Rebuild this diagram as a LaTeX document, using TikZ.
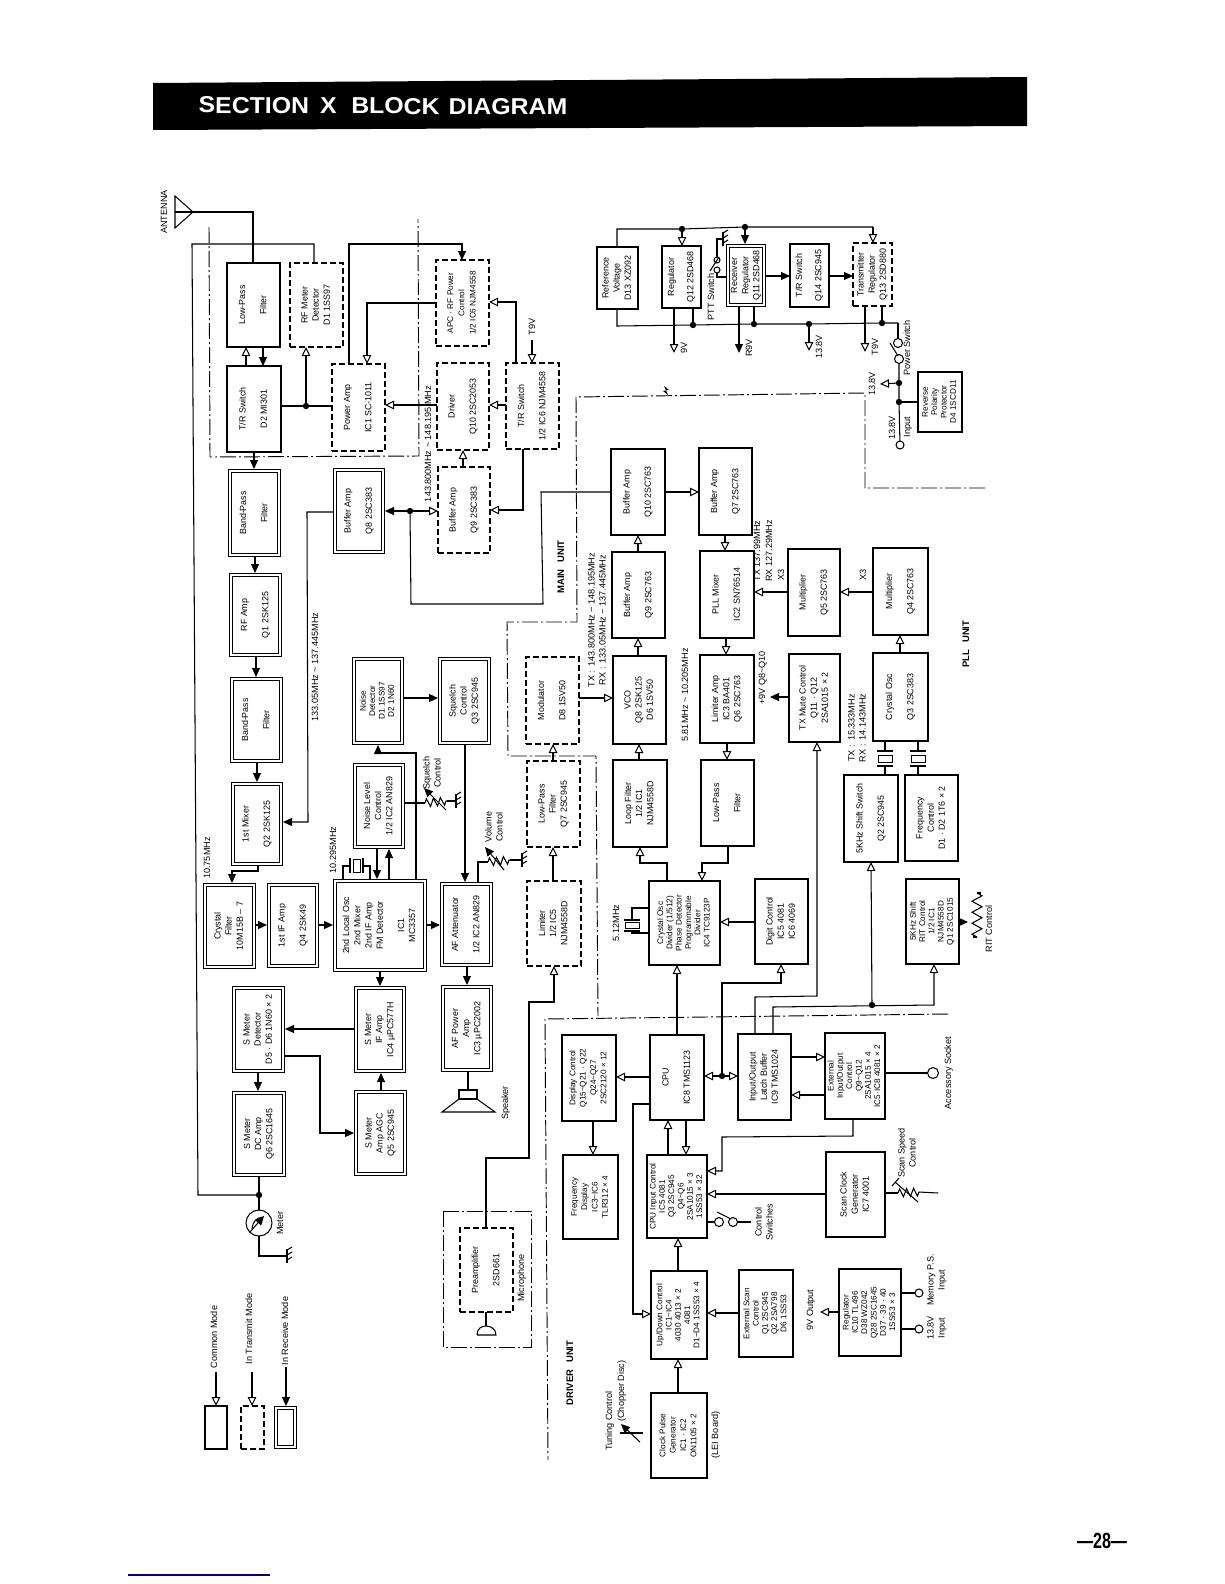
\documentclass[tikz,border=0pt]{standalone}
\usepackage{fontspec}
\usepackage{graphicx}
\setmainfont{Liberation Sans}
\usetikzlibrary{arrows.meta,decorations.pathmorphing}
\newcommand\normf{\fontsize{8.9}{11.2}\selectfont}
\newcommand\densef{\fontsize{8.2}{9.3}\selectfont}
\newcommand\labf{\fontsize{9.1}{11}\selectfont}
\newcount\labc
\newcommand\Blk[7]{%
  \pgfmathsetmacro\bw{#5-#3}\pgfmathsetmacro\bh{#6-#4}%
  \pgfmathsetmacro\cx{(#3+#5)/2}\pgfmathsetmacro\cy{(#4+#6)/2}%
  \node[#1,minimum width=\bw pt,minimum height=\bh pt] (#2) at (\cx,\cy)
    {\rotatebox{90}{\begin{tabular}{@{}c@{}}#7\end{tabular}}};}
\newcommand\DBlk[7]{%
  \pgfmathsetmacro\xa{#3+2}\pgfmathsetmacro\ya{#4+2}%
  \pgfmathsetmacro\xb{#5-2}\pgfmathsetmacro\yb{#6-2}%
  \Blk{dblbox,#1}{#2}{\xa}{\ya}{\xb}{\yb}{#7}}
\newcommand\Lab[3]{\global\advance\labc by 1
  \node[lab] (lab\the\labc) at (#1,#2) {\rotatebox{90}{\begin{tabular}{@{}c@{}}#3\end{tabular}}};}
\newcommand\Gnd[2]{%
  \draw[wire] (#1,#2-7) -- (#1,#2+7);
  \foreach \k in {-6,-1,4} \draw[wire] (#1,#2+\k) -- (#1+5,#2+\k-3);}
\tikzset{
  wire/.style={line width=1.05pt,line join=miter},
  oa/.style={wire,-{Triangle[open,length=9pt,width=8.5pt,line width=1pt]}},
  fa/.style={wire,-{Triangle[length=9pt,width=8pt]}},
  plainbox/.style={draw,line width=1.1pt,inner sep=0pt,outer sep=0pt,font=\normf},
  dashbox/.style={plainbox,dash pattern=on 6pt off 3pt},
  dblbox/.style={plainbox,line width=1.05pt,double=white,double distance=1.8pt,outer sep=2pt},
  dense/.style={font=\densef},
  lab/.style={inner sep=0pt,outer sep=0pt,font=\labf},
  frameline/.style={line width=.95pt,dash pattern=on 16pt off 3pt on 2pt off 3pt},
  dotnode/.style={circle,fill=black,inner sep=0pt,outer sep=0pt,minimum size=6.4pt},
  term/.style={circle,draw,line width=1.05pt,fill=white,inner sep=0pt,outer sep=0pt,minimum size=9pt},
  unitlab/.style={inner sep=0pt,font=\fontsize{9.5}{11}\selectfont\bfseries,rotate=90},
  res/.style={wire,decorate,decoration={zigzag,segment length=7pt,amplitude=4pt}},
  resb/.style={wire,decorate,decoration={zigzag,segment length=11pt,amplitude=5pt}},
}
\begin{document}
\begin{tikzpicture}[x=1pt,y=-1pt]
\useasboundingbox (0,0) rectangle (1224,1584);
% header
\fill[black] (153,83) -- (1027,77) -- (1027,126) -- (153,130) -- cycle;
\node[white,font=\fontsize{23}{26}\selectfont\bfseries,inner sep=0pt,rotate=-0.3] (title) at (383,106) {\scalebox{1.08}[1]{SECTION\hspace{4pt} X\hspace{7pt} BLOCK\hspace{2pt} DIAGRAM}};
\node[font=\fontsize{22}{24}\selectfont\bfseries,inner sep=0pt] (pageno) at (1102,1541) {\scalebox{.73}[1]{—28—}};
\draw[line width=1.2pt,blue!50!black] (128,1575) -- (270,1575);
% frames
\draw[frameline] (209,227) -- (210,457) -- (419,456) -- (418,219);
\draw[frameline] (985,488) -- (865,488) -- (865,393) -- (576,397) -- (577,622) -- (507,622) -- (508,756) -- (596,756) -- (598,1016);
\draw[frameline] (948,1014) -- (545,1019) -- (548,1460);
\draw[frameline] (443,1211) rectangle (531,1347);
\fill (664,386) -- (669,390) -- (666,390.5) -- (668,395) -- (663,391) -- (666,390.5) -- cycle;
% antenna
\coordinate (ant) at (193,212);
\draw[wire] (175,196) -- (ant) -- (175,228) -- cycle;
\draw[wire] (175,212) -- (ant);
% main unit upper
\Blk{plainbox}{lpf}{227}{263}{280}{347}{Low-Pass\\[10pt]Filter}
\Blk{dashbox}{rfdet}{290}{263}{343}{347}{RF Meter\\Detector\\D1 1SS97}
\Blk{plainbox}{trsw}{227}{366}{281}{452}{T/R Switch\\[10pt]D2 MI301}
\Blk{dashbox}{pa}{332}{364}{385}{451}{Power Amp\\[10pt]IC1 SC-1011}
\Blk{dashbox,dense}{apc}{436}{260}{489}{346}{APC · RF Power\\[2pt]Control\\[2pt]1/2 IC6 NJM4558}
\Blk{dashbox}{drv}{437}{363}{489}{450}{Driver\\[10pt]Q10 2SC2053}
\Blk{dashbox}{trsb}{506}{363}{559}{449}{T/R Switch\\[10pt]1/2 IC6 NJM4558}
\Blk{dashbox}{bufa}{438}{467}{490}{553}{Buffer Amp\\[10pt]Q9 2SC383}
\DBlk{}{bpfa}{228}{469}{281}{557}{Band-Pass\\[10pt]Filter}
\DBlk{}{bufb}{333}{468}{385}{554}{Buffer Amp\\[10pt]Q8 2SC383}
\DBlk{}{rfamp}{229}{573}{282}{657}{RF Amp\\[10pt]Q1 2SK125}
\DBlk{}{bpfb}{230}{677}{283}{763}{Band-Pass\\[10pt]Filter}
\DBlk{}{mix}{231}{782}{283}{866}{1st Mixer\\[10pt]Q2 2SK125}
\DBlk{dense}{ndet}{352}{657}{404}{745}{Noise\\Detector\\D1 1SS97\\D2 1N60}
\DBlk{}{sq}{438}{657}{491}{745}{Squelch\\Control\\Q3 2SC945}
\DBlk{}{nlc}{353}{763}{405}{849}{Noise Level\\Control\\1/2 IC2 AN829}
\DBlk{}{lo}{333}{879}{427}{972}{2nd Local Osc\\2nd Mixer\\2nd IF Amp\\FM Detector\\[10pt]IC1\\MC3357}
\DBlk{}{xf}{203}{883}{256}{969}{Crystal\\Filter\\10M15B – 7}
\DBlk{}{ifa}{267}{883}{319}{968}{1st IF Amp\\[10pt]Q4 2SK49}
\DBlk{}{afatt}{440}{882}{493}{967}{AF Attenuator\\[10pt]1/2 IC2 AN829}
\Blk{dashbox}{mod}{526}{657}{579}{744}{Modulator\\[10pt]D8 1SV50}
\Blk{dashbox}{lpq}{527}{761}{580}{847}{Low-Pass\\Filter\\Q7 2SC945}
\Blk{dashbox}{lim}{527}{881}{581}{966}{Limiter\\1/2 IC5\\NJM4558D}
\DBlk{}{smd}{232}{986}{285}{1073}{S Meter\\Detector\\D5 · D6 1N60 × 2}
\DBlk{}{smdc}{232}{1091}{286}{1177}{S Meter\\DC Amp\\Q6 2SC1645}
\DBlk{}{smif}{354}{986}{406}{1073}{S Meter\\IF Amp\\IC4 µPC577H}
\DBlk{}{smagc}{354}{1090}{407}{1176}{S Meter\\Amp AGC\\Q5 2SC945}
\DBlk{}{afp}{441}{985}{493}{1072}{AF Power\\Amp\\IC3 µPC2002}
\Blk{dashbox}{pre}{460}{1228}{513}{1312}{Preamplifier\\[10pt]2SD661}
% PLL
\Blk{plainbox}{bq10}{611}{449}{665}{535}{Buffer Amp\\[10pt]Q10 2SC763}
\Blk{plainbox}{bq7}{699}{448}{752}{535}{Buffer Amp\\[10pt]Q7 2SC763}
\Blk{plainbox}{bq9}{612}{552}{665}{638}{Buffer Amp\\[10pt]Q9 2SC763}
\Blk{plainbox}{pll}{700}{551}{754}{638}{PLL Mixer\\[10pt]IC2 SN76514}
\Blk{plainbox}{mq5}{788}{549}{840}{636}{Multiplier\\[10pt]Q5 2SC763}
\Blk{plainbox}{mq4}{873}{548}{928}{635}{Multiplier\\[10pt]Q4 2SC763}
\Blk{plainbox}{vco}{613}{656}{666}{744}{VCO\\Q8 2SK125\\D6 1SV50}
\Blk{plainbox}{lima}{700}{655}{754}{743}{Limiter Amp\\IC3 BA401\\Q6 2SC763}
\Blk{plainbox}{txm}{789}{654}{840}{742}{TX Mute Control\\Q11 · Q12\\2SA1015 × 2}
\Blk{plainbox}{xo}{873}{653}{928}{741}{Crystal Osc\\[10pt]Q3 2SC383}
\Blk{plainbox}{loop}{613}{760}{667}{847}{Loop Filter\\1/2 IC1\\NJM4558D}
\Blk{plainbox}{lpf2}{701}{760}{754}{846}{Low-Pass\\[10pt]Filter}
\Blk{plainbox}{shsw}{844}{775}{898}{862}{5KHz Shift Switch\\[10pt]Q2 2SC945}
\Blk{plainbox}{fc}{905}{775}{958}{861}{Frequency\\Control\\D1 · D2 1T6 × 2}
\Blk{plainbox,dense}{rit}{906}{879}{959}{964}{5KHz Shift\\RIT Control\\1/2 IC1\\NJM4558D\\Q1 2SC1015}
\Blk{plainbox,dense}{div}{649}{881}{720}{965}{Crystal Osc\\Divider (1/512)\\Phase Detector\\Programmable\\Divider\\IC4 TC9123P}
\Blk{plainbox}{dig}{755}{879}{808}{964}{Digit Control\\IC5 4081\\IC6 4069}
% Driver
\Blk{plainbox,dense}{disp}{562}{1035}{616}{1121}{Display Control\\[1pt]Q15\textasciitilde Q21 · Q22\\[1pt]Q24\textasciitilde Q27\\[1pt]2SC2120 × 12}
\Blk{plainbox,dense}{fdisp}{563}{1155}{618}{1239}{Frequency\\[1pt]Display\\[1pt]IC3\textasciitilde IC6\\[1pt]TLR312 × 4}
\Blk{plainbox}{cpu}{650}{1035}{704}{1120}{CPU\\[10pt]IC8 TMS1123}
\Blk{plainbox}{io}{738}{1034}{791}{1120}{Input/Output\\Latch Buffer\\IC9 TMS1024}
\Blk{plainbox,dense}{ext}{825}{1033}{885}{1119}{External\\Input/Output\\Control\\Q9\textasciitilde Q12\\2SA1015 × 4\\IC5·IC8 4081 × 2}
\Blk{plainbox,dense}{cic}{647}{1155}{707}{1238}{CPU Input Control\\IC5 4081\\Q3 2SC945\\Q4\textasciitilde Q6\\2SA1015 × 3\\1SS53 × 32}
\Blk{plainbox}{scan}{826}{1152}{885}{1237}{Scan Clock\\Generator\\IC7 4001}
\Blk{plainbox,dense}{ud}{651}{1271}{707}{1359}{Up/Down Control\\IC1\textasciitilde IC4\\4030 4013 × 2\\4081\\D1\textasciitilde D4 1SS53 × 4}
\Blk{plainbox,dense}{exts}{739}{1270}{793}{1357}{External Scan\\Control\\Q1 2SC945\\Q2 2SA798\\D6 1SS53}
\Blk{plainbox,dense}{reg2}{839}{1269}{901}{1356}{Regulator\\IC10 TL496\\D38 WZ042\\Q28 2SC1645\\D37 · 39 · 40\\1SS53 × 3}
\Blk{plainbox,dense}{clk}{651}{1393}{707}{1478}{Clock Pulse\\[1pt]Generator\\[1pt]IC1 · IC2\\[1pt]ON1105 × 2}
% power
\Blk{plainbox}{ref}{597}{247}{638}{309}{Reference\\Voltage\\D13 XZ092}
\Blk{plainbox}{rq12}{662}{246}{701}{308}{Regulator\\[8pt]Q12 2SD468}
\DBlk{}{rq11}{726}{244}{766}{307}{Receiver\\Regulator\\Q11 2SD468}
\Blk{plainbox}{trq14}{790}{244}{829}{307}{T/R Switch\\[8pt]Q14 2SC945}
\Blk{dashbox}{txr}{853}{243}{892}{306}{Transmitter\\Regulator\\Q13 2SD880}
\Blk{plainbox,dense}{rpp}{918}{372}{962}{432}{Reverse\\Polarity\\Protector\\D4 1SCD11}
% legend
\Blk{plainbox}{lga}{205}{1406}{227}{1449}{}
\Blk{dashbox}{lgb}{241}{1406}{264}{1449}{}
\DBlk{}{lgc}{274}{1406}{297}{1449}{}
\coordinate (lga0) at (216,1372);
\coordinate (lgb0) at (252,1372);
\coordinate (lgc0) at (286,1367);
\draw[oa] (lga0) -- (lga.north -| lga0);
\draw[oa] (lgb0) -- (lgb.north -| lgb0);
\draw[fa] (lgc0) -- (lgc.north -| lgc0);
% dots
\node[dotnode] (d1) at (306,406) {};
\node[dotnode] (d2) at (410,511) {};
\node[dotnode] (d3) at (259,1195) {};
\node[dotnode] (d4) at (682,229) {};
\node[dotnode] (d5) at (745,227) {};
\node[dotnode] (d6) at (693,325) {};
\node[dotnode] (d7) at (754,324) {};
\node[dotnode] (d8) at (809,324) {};
\node[dotnode] (d9) at (882,323) {};
\node[dotnode] (d10) at (899,383) {};
\node[dotnode] (d11) at (899,402) {};
\node[dotnode] (d12) at (722,1076) {};
\node[dotnode] (d13) at (872,1005) {};
% RF chain
\draw[wire] (ant) -- (253,212) -- (lpf.north -| 253,0);
\draw[oa] (trsw.north -| 246,0) -- (lpf.south -| 246,0);
\draw[fa] (lpf.south -| 263,0) -- (trsw.north -| 263,0);
\draw[wire] (rfdet.north -| 314,0) -- (314,244) -- (192,244) -- (198,1195) -- (d3);
\draw[wire] (trsw.east |- 0,406) -- (d1) -- (pa.west |- 0,406);
\draw[oa] (d1) -- (rfdet.south -| d1);
\draw[fa] (pa.north -| 349,0) -- (349,244) -- (462,244) -- (apc.north -| 462,0);
\draw[oa] (apc.west |- 0,303) -- (367,303) -- (pa.north -| 367,0);
\draw[oa] (trsb.north -| 516,0) -- (516,302) -- (apc.east |- 0,302);
\coordinate (t9a) at (532,340);
\draw[oa] (t9a) -- (trsb.north -| t9a);
\draw[oa] (drv.west |- 0,405) -- (pa.east |- 0,405);
\draw[oa] (trsb.west |- 0,405) -- (drv.east |- 0,405);
\draw[oa] (bufa.north -| 463,0) -- (drv.south -| 463,0);
\draw[oa] (trsb.south -| 523,0) -- (523,510) -- (bufa.east |- 0,510);
\draw[fa] (d2) -- (bufb.east |- d2);
\draw[oa] (d2) -- (bufa.west |- d2);
\draw[wire] (d2) -- (411,604) -- (543,604) -- (541,492) -- (bq10.west |- 0,492);
\draw[fa] (trsw.south -| 254,0) -- (bpfa.north -| 254,0);
\draw[fa] (bpfa.south -| 255,0) -- (rfamp.north -| 255,0);
\draw[fa] (rfamp.south -| 256,0) -- (bpfb.north -| 256,0);
\draw[fa] (bpfb.south -| 257,0) -- (mix.north -| 257,0);
\draw[fa] (bufb.west |- 0,512) -- (307,512) -- (308,822) -- (mix.east |- 0,822);
\draw[fa] (mix.south -| 258,0) -- (258,871) -- (232,871) -- (xf.north -| 232,0);
\draw[fa] (xf.east |- 0,925) -- (ifa.west |- 0,925);
\draw[fa] (ifa.east |- 0,925) -- (lo.west |- 0,925);
\draw[fa] (lo.east |- 0,925) -- (afatt.west |- 0,925);
\draw[fa] (nlc.south -| 377,0) -- (lo.north -| 377,0);
\draw[fa] (lo.north -| 389,0) -- (nlc.south -| 389,0);
\draw[fa] (lo.north -| 416,0) -- (416,753) -- (378,753) -- (ndet.south -| 378,0);
\draw[fa] (ndet.east |- 0,698) -- (sq.west |- 0,698);
\draw[fa] (sq.south -| 465,0) -- (afatt.north -| 465,0);
\draw[fa] (afatt.south -| 467,0) -- (afp.north -| 467,0);
\draw[fa] (lo.south -| 380,0) -- (smif.north -| 380,0);
\draw[fa] (smagc.north -| 381,0) -- (smif.south -| 381,0);
\draw[fa] (smif.west |- 0,1029) -- (smd.east |- 0,1029);
\draw[fa] (smd.east |- 0,1056) -- (320,1056) -- (320,1133) -- (smagc.west |- 0,1133);
\draw[fa] (smd.south -| 258,0) -- (smdc.north -| 258,0);
\draw[wire] (smdc.south -| 259,0) -- (d3);
% meter
\node[circle,draw,line width=1.05pt,minimum size=26pt,inner sep=0pt,outer sep=0pt] (meter) at (259,1223) {};
\draw[wire] (d3) -- (meter);
\draw[wire] (252,1229) .. controls (253,1221) and (256,1218) .. (263,1217);
\draw[fa] (250,1232) -- (264,1216);
\coordinate (mg) at (287,1256);
\draw[wire] (meter) -- (259,1256) -- (mg);
\Gnd{287}{1256}
% speaker
\node[draw,line width=1.05pt,minimum width=18pt,minimum height=9pt,inner sep=0pt,outer sep=0pt] (spk) at (468,1094.5) {};
\draw[wire] (afp.south -| spk) -- (spk);
\draw[wire] (459,1099) -- (442,1112) -- (495,1112) -- (477,1099);
% 10.295 crystal
\draw[wire] (lo.north -| 343,0) -- (343,866) -- (350,866);
\draw[wire] (363,866) -- (370,866) -- (lo.north -| 370,0);
\draw[wire] (350,858) -- (350,873) (363,858) -- (363,873);
\draw[line width=1pt] (353,859) rectangle (360,872);
% squelch pot
\coordinate (sqa) at (425,803);
\coordinate (sqb) at (447,801);
\draw[wire] (nlc.east |- sqa) -- (sqa);
\draw[res] (sqa) -- (sqb);
\draw[wire] (sqb) -- (455,801);
\Gnd{456}{801}
\draw[fa] (446,810) -- (424,788);
% volume pot
\coordinate (vola) at (488,862);
\coordinate (volb) at (510,860);
\draw[wire] (afatt.north -| 478,0) -- (478,862) -- (vola);
\draw[res] (vola) -- (volb);
\draw[wire] (volb) -- (521,860);
\Gnd{522}{860}
\draw[fa] (504,870) -- (485,847);
% tx audio
\draw[oa] (lim.north -| 553,0) -- (lpq.south -| 553,0);
\draw[oa] (lpq.north -| 553,0) -- (mod.south -| 553,0);
\draw[oa] (mod.east |- 0,698) -- (vco.west |- 0,698);
\draw[oa] (pre.north -| 486,0) -- (486,1158) -- (529,1158) -- (529,1002) -- (554,1002) -- (lim.south -| 554,0);
\coordinate (mica) at (486,1326);
\draw[wire] (pre.south -| 486,0) -- (mica);
\draw[wire] (477,1335) -- (496,1335) .. controls (496,1329) and (491,1326) .. (mica) .. controls (481,1326) and (477,1329) .. (477,1335);
% PLL wires
\draw[oa] (vco.north -| 638,0) -- (bq9.south -| 638,0);
\draw[oa] (bq9.north -| 638,0) -- (bq10.south -| 638,0);
\draw[oa] (bq10.east |- 0,492) -- (bq7.west |- 0,492);
\draw[oa] (bq7.south -| 725,0) -- (pll.north -| 725,0);
\draw[oa] (mq5.west |- 0,592) -- (pll.east |- 0,592);
\draw[oa] (mq4.west |- 0,592) -- (mq5.east |- 0,592);
\draw[oa] (xo.north -| 900,0) -- (mq4.south -| 900,0);
\draw[oa] (pll.south -| 726,0) -- (lima.north -| 726,0);
\draw[oa] (lima.south -| 727,0) -- (lpf2.north -| 727,0);
\draw[oa] (lpf2.south -| 728,0) -- (728,863) -- (702,863) -- (div.north -| 702,0);
\draw[oa] (div.north -| 667,0) -- (667,863) -- (640,863) -- (loop.south -| 640,0);
\draw[oa] (loop.north -| 639,0) -- (vco.south -| 639,0);
\draw[oa] (dig.west |- 0,922) -- (div.east |- 0,922);
\coordinate (txo) at (770,697);
\draw[fa] (txm.west |- txo) -- (txo);
% crystals X3
\foreach \cxx/\pl/\nm in {885/xo/shsw,918/xo/fc}{
  \draw[wire] (\pl.south -| \cxx,0) -- (\cxx,751);
  \draw[wire] (\cxx,766) -- (\nm.north -| \cxx,0);
  \draw[wire] (\cxx-8,751) -- (\cxx+8,751) (\cxx-8,766) -- (\cxx+8,766);
  \draw[line width=1pt] (\cxx-7,755) rectangle (\cxx+7,762);
}
% 5.12 crystal
\draw[wire] (div.west |- 0,908) -- (632,908) -- (632,920);
\draw[wire] (div.west |- 0,933) -- (632,933) -- (632,931);
\draw[wire] (624,920) -- (640,920) (624,931) -- (640,931);
\draw[line width=1pt] (625,922.5) rectangle (639,928.5);
% driver wires
\draw[oa] (cpu.north -| 677,0) -- (div.south -| 677,0);
\draw[oa] (d12) -- (cpu.east |- d12);
\draw[oa] (d12) -- (io.west |- d12);
\draw[oa] (d12) -- (722,983) -- (781,983) -- (dig.south -| 781,0);
\draw[oa] (io.north -| 755,0) -- (755,997) -- (817,996) -- (txm.south -| 817,0);
\draw[oa] (io.north -| 773,0) -- (773,1007) -- (934,1005) -- (rit.south -| 934,0);
\draw[oa] (d13) -- (shsw.south -| 871,0);
\draw[oa] (io.east |- 0,1057) -- (ext.west |- 0,1057);
\draw[oa] (ext.west |- 0,1095) -- (io.east |- 0,1095);
\node[term,minimum size=11pt] (acc) at (933,1073) {};
\draw[wire] (ext.east |- acc) -- (acc);
\draw[oa] (cpu.west |- 0,1077) -- (disp.east |- 0,1077);
\draw[oa] (disp.south -| 593,0) -- (fdisp.north -| 593,0);
\draw[oa] (cpu.west |- 0,1104) -- (633,1104) -- (633,1314) -- (ud.west |- 0,1314);
\draw[oa] (cic.north -| 668,0) -- (cpu.south -| 668,0);
\draw[oa] (cpu.south -| 686,0) -- (cic.north -| 686,0);
\draw[oa] (ext.south -| 853,0) -- (853,1136) -- (722,1137) -- (722,1171) -- (cic.east |- 0,1171);
\draw[oa] (scan.west |- 0,1194) -- (cic.east |- 0,1194);
\node[term] (swa) at (719,1222) {};
\node[term] (swb) at (733,1222) {};
\coordinate (swc) at (751,1222);
\draw[wire] (cic.east |- swa) -- (swa);
\draw[wire] (swb) -- (swc);
\draw[wire] (717,1212) -- (731,1219);
\draw[oa] (ud.north -| 678,0) -- (cic.south -| 678,0);
\draw[oa] (exts.west |- 0,1313) -- (ud.east |- 0,1313);
\draw[oa] (clk.north -| 678,0) -- (ud.south -| 678,0);
\coordinate (rego) at (820,1312);
\draw[oa] (reg2.west |- rego) -- (rego);
\node[term,minimum size=8pt] (inm) at (919,1293) {};
\node[term,minimum size=8pt] (inv) at (919,1329) {};
\draw[wire] (reg2.east |- inm) -- (inm);
\draw[wire] (reg2.east |- inv) -- (inv);
% scan pot
\coordinate (spa) at (898,1193);
\coordinate (spb) at (919,1192);
\coordinate (spc) at (938,1193);
\draw[wire] (scan.east |- spa) -- (spa);
\draw[res] (spa) -- (spb);
\draw[wire] (spb) -- (spc);
\draw[wire] (895,1182) -- (918,1202) (892,1186) -- (899,1178);
% RIT pot
\coordinate (rita) at (977,937);
\coordinate (ritb) at (977,893);
\draw[fa] (rit.east |- 0,922) -- (968,922);
\draw[resb] (rita) -- (ritb);
\draw[wire] (rita) -- (973,937) (ritb) -- (981,893);
% tuning
\draw[wire] (620,1433) -- (643,1433);
\draw[fa] (640,1442) -- (621,1424);
% power wiring
\draw[wire] (ref.north -| 617,0) -- (617,229) -- (d4) -- (d5) -- (873,227);
\draw[oa] (873,227) -- (txr.north -| 873,0);
\draw[oa] (d4) -- (rq12.north -| d4);
\draw[fa] (d5) -- (rq11.north -| d5);
\draw[wire] (ref.south -| 617,0) -- (617,326) -- (d6) -- (d7) -- (d8) -- (d9) -- (898,323);
\node[term] (pwa) at (898,343) {};
\node[term] (pwb) at (899,359) {};
\draw[wire] (898,323) -- (pwa);
\draw[wire] (890,343) -- (898,356);
\draw[wire] (d6) -- (rq12.south -| d6);
\coordinate (o9) at (674,353);
\draw[oa] (rq12.south -| o9) -- (o9);
\coordinate (or9) at (739,353);
\draw[fa] (rq11.south -| or9) -- (or9);
\draw[wire] (d7) -- (rq11.south -| d7);
\coordinate (o138) at (809,351);
\draw[oa] (d8) -- (o138);
\coordinate (ot9) at (865,352);
\draw[oa] (txr.south -| ot9) -- (ot9);
\draw[wire] (d9) -- (txr.south -| d9);
\node[term,minimum size=8pt] (inp) at (900,445) {};
\draw[wire] (pwb) -- (d10) -- (d11) -- (inp);
\coordinate (o138b) at (880,384);
\draw[oa] (d10) -- (o138b);
\draw[wire] (d11) -- (rpp.west |- d11);
\draw[fa] (rq11.east |- 0,276) -- (trq14.west |- 0,276);
\draw[fa] (trq14.east |- 0,276) -- (txr.west |- 0,276);
% PTT
\node[term,minimum size=6pt] (pta) at (717,270) {};
\node[term,minimum size=6pt] (ptb) at (717,260) {};
\draw[wire] (rq11.west |- 0,277) -- (717,277) -- (pta);
\draw[wire] (ptb) -- (717,239) -- (723,239);
\draw[wire] (710,271) -- (719,257);
\Gnd{723}{239}
% labels
\Lab{165}{212}{ANTENNA}
\Lab{533}{327}{T9V}
\Lab{429}{444}{143.800MHz \textasciitilde{} 148.195 MHz}
\Lab{316}{667}{133.05MHz \textasciitilde{} 137.445MHz}
\Lab{208}{858}{10.75MHz}
\Lab{334}{850}{10.295MHz}
\Lab{433}{773}{Squelch\\Control}
\Lab{495}{827}{Volume\\Control}
\Lab{506}{1103}{Speaker}
\Lab{281}{1223}{Meter}
\Lab{522}{1278}{Microphone}
\Lab{215}{1337}{Common Mode}
\Lab{250}{1329}{In Transmit Mode}
\Lab{286}{1331}{In Receive Mode}
\Lab{598}{620}{TX : \,143.800MHz \textasciitilde{} 148.195MHz\\RX : \,133.05MHz \textasciitilde{} 137.445MHz}
\Lab{686}{695}{5.81MHz \textasciitilde{} 10.205MHz}
\Lab{758}{551}{TX 137.99MHz}
\Lab{770}{551}{RX 127.29MHz}
\Lab{782}{575}{X3}
\Lab{864}{575}{X3}
\Lab{763}{678}{+9V Q8\textasciitilde Q10}
\Lab{858}{728}{TX : \,15.333MHz\\RX : \,14.143MHz}
\Lab{617}{923}{5.12MHz}
\Lab{685}{348}{9V}
\Lab{750}{348}{R9V}
\Lab{820}{347}{13.8V}
\Lab{876}{347}{T9V}
\Lab{712}{297}{PTT Switch}
\Lab{908}{348}{Power Switch}
\Lab{873}{384}{13.8V}
\Lab{893}{428}{13.8V}
\Lab{908}{427}{Input}
\Lab{949}{1073}{Accessory Socket}
\Lab{765}{1222}{Control\\Switches}
\Lab{908}{1153}{Scan Speed\\Control}
\Lab{811}{1310}{9V Output}
\Lab{937}{1280}{Memory P.S.\\Input}
\Lab{937}{1328}{13.8V\\Input}
\Lab{610}{1421}{Tuning Control}
\Lab{622}{1391}{(Chopper Disc)}
\Lab{716}{1435}{(LEI Board)}
\Lab{990}{929}{RIT Control}
\node[unitlab] (mainu) at (561,567) {MAIN\hspace{4pt} UNIT};
\node[unitlab] (pllu) at (966,644) {PLL\hspace{4pt} UNIT};
\node[unitlab] (drvu) at (570,1373) {DRIVER\hspace{4pt} UNIT};
\end{tikzpicture}
\end{document}
